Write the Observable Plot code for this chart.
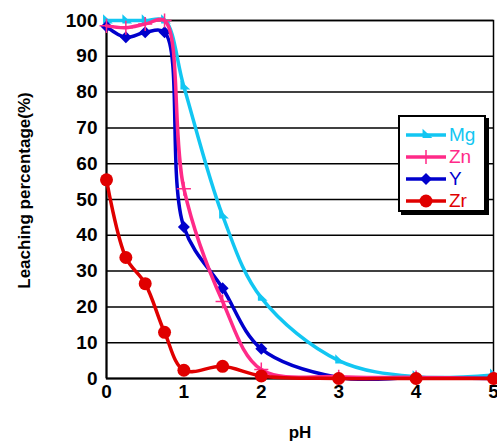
<!DOCTYPE html>
<html><head><meta charset="utf-8">
<script src="https://cdn.jsdelivr.net/npm/d3@7"></script>
<script src="https://cdn.jsdelivr.net/npm/@observablehq/plot@0.6"></script>
<style>
body{margin:0;background:#fff;font-family:"Liberation Sans",Arial,sans-serif}
#wrap{position:relative;width:497px;height:444px;overflow:hidden}
#legend{position:absolute;left:398px;top:115px;width:88px;height:97px;background:#fff;border:2px solid #000;box-shadow:3px 3px 0 #000;box-sizing:border-box}
.item{position:absolute;left:6px;height:22px;display:flex;align-items:center;font-size:19px}
.item svg{margin-right:3px}
</style>
</head><body><div id="wrap"><div id="chart"></div><div id="legend"></div></div>
<script>
const pH = [0, 0.25, 0.5, 0.75, 1, 1.5, 2, 3, 4, 5];
const mg = [100, 100, 100, 100, 81.5, 45.5, 22.5, 5, 0.5, 1];
const zn = [98.5, 98, 99, 100, 53, 21.5, 2.5, 0.5, 0.3, 0];
const yt = [98.3, 95.3, 96.7, 96.7, 42.3, 25.2, 8.3, 0.3, 0.2, 0];
const zr = [55.5, 33.8, 26.5, 12.9, 2.3, 3.4, 0.7, 0, 0, 0];
const seriesNames = ["Mg", "Zn", "Y", "Zr"];
const seriesValues = [mg, zn, yt, zr];
const colors = ["#12c6f2", "#ff2a88", "#0000cc", "#e00000"];
const xTicks = [0, 1, 2, 3, 4, 5];
const yTicks = [0, 10, 20, 30, 40, 50, 60, 70, 80, 90, 100];

const triSymbol = {
  draw(ctx, size) {
    const s = Math.sqrt(size) / 2;
    ctx.moveTo(-s * 0.6, -s * 1.1);
    ctx.lineTo(s * 1.1, s * 0.5);
    ctx.lineTo(-s * 0.6, s * 0.5);
    ctx.closePath();
  }
};
const symbols = [triSymbol, "plus", "diamond2", "circle"];
const radii = [6.5, 4.6, 5.4, 6.5];

const rows = seriesNames.map((name, k) => pH.map((x, i) => ({series: name, x, v: seriesValues[k][i]})));

const marks = [
  Plot.ruleY(yTicks.slice(1), {stroke: "#000", strokeWidth: 1.5}),
  Plot.frame({stroke: "#000", strokeWidth: 1.5}),
  Plot.ruleX([0], {stroke: "#000", strokeWidth: 2}),
  Plot.ruleY([0], {stroke: "#000", strokeWidth: 2})
];
const order = [0, 2, 1, 3];
for (const k of order) {
  marks.push(Plot.line(rows[k], {x: "x", y: "v", stroke: colors[k], strokeWidth: 3.5, curve: "catmull-rom"}));
  const isStroke = symbols[k] === "plus";
  marks.push(Plot.dot(rows[k], {x: "x", y: "v", symbol: () => symbols[k], r: radii[k],
    fill: isStroke ? "none" : colors[k], stroke: isStroke ? colors[k] : "none", strokeWidth: 1.5}));
}
marks.push(Plot.axisX({ticks: xTicks, tickFormat: "d", tickSize: 0, tickPadding: 6, label: null, fontSize: 19, fontWeight: "bold"}));
marks.push(Plot.axisY({ticks: yTicks, tickFormat: "d", tickSize: 0, tickPadding: 9, label: null, fontSize: 19, fontWeight: "bold"}));
marks.push(Plot.text(["Leaching percentage(%)"], {frameAnchor: "left", textAnchor: "middle", rotate: -90, dx: -82, dy: -9, fontSize: 17, fontWeight: "bold", fill: "#000"}));
marks.push(Plot.text(["pH"], {frameAnchor: "bottom", dy: 59, fontSize: 17, fontWeight: "bold", fill: "#000"}));

const chart = Plot.plot({
  width: 497, height: 444,
  marginLeft: 106, marginRight: 4, marginTop: 20, marginBottom: 66,
  x: {domain: [0, 5]},
  y: {domain: [0, 100]},
  symbol: {type: "identity"},
  style: {fontFamily: "'Liberation Sans', Arial, sans-serif", background: "#fff", overflow: "visible"},
  marks
});
document.getElementById("chart").appendChild(chart);

// legend
const legend = document.getElementById("legend");
const itemTops = [7, 29, 51, 73];
seriesNames.forEach((name, k) => {
  const div = document.createElement("div");
  div.className = "item";
  div.style.top = (itemTops[k]) + "px";
  div.style.color = colors[k];
  const svg = d3.create("svg").attr("width", 40).attr("height", 22);
  svg.append("line").attr("x1", 0).attr("x2", 40).attr("y1", 11).attr("y2", 11).attr("stroke", colors[k]).attr("stroke-width", 3.5);
  const sym = symbols[k];
  const symType = sym === "plus" ? d3.symbolPlus : sym === "diamond2" ? d3.symbolDiamond2 : sym === "circle" ? d3.symbolCircle : sym;
  const size = Math.PI * radii[k] * radii[k];
  const isStroke = sym === "plus";
  svg.append("path").attr("transform", "translate(20,11)").attr("d", d3.symbol(symType, size)())
    .attr("fill", isStroke ? "none" : colors[k]).attr("stroke", isStroke ? colors[k] : "none").attr("stroke-width", 1.5);
  div.appendChild(svg.node());
  const span = document.createElement("span");
  span.textContent = name;
  div.appendChild(span);
  legend.appendChild(div);
});
</script>
</body></html>
